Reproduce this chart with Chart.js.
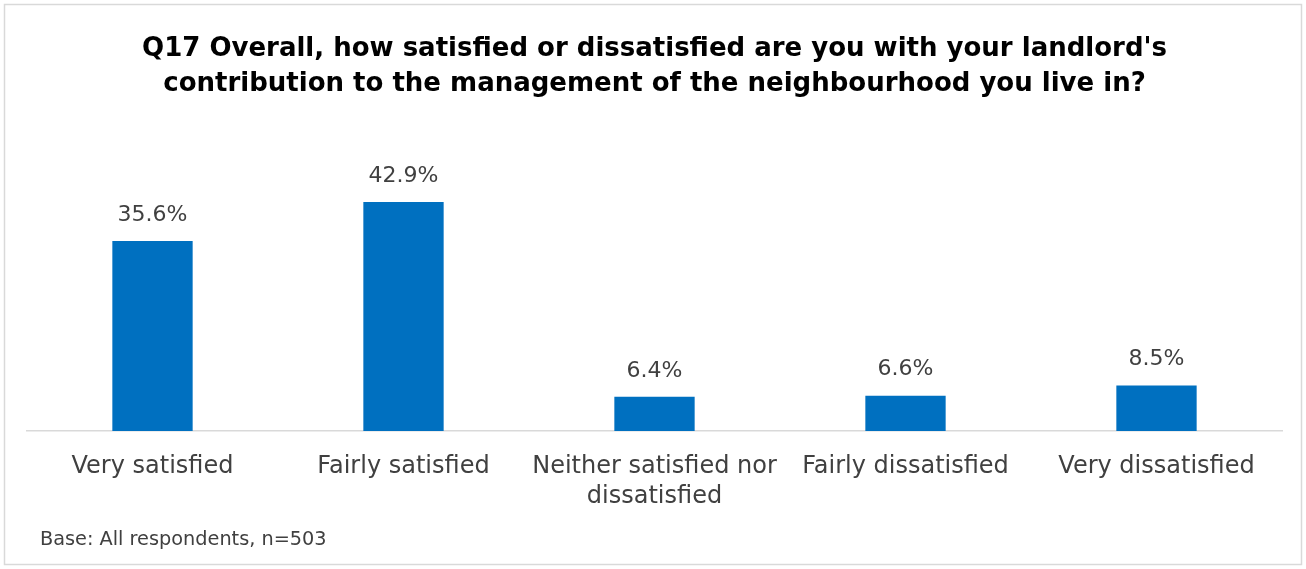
<!DOCTYPE html>
<html>
<head>
<meta charset="utf-8">
<script src="https://cdn.jsdelivr.net/npm/chart.js@4/dist/chart.umd.min.js"></script>
<style>
  html, body { margin: 0; padding: 0; background: #ffffff; }
  #wrap { width: 1306px; height: 569px; position: relative; }
</style>
</head>
<body>
<div id="wrap"><canvas id="chart" width="1306" height="569"></canvas></div>
<script>
// Survey responses, percentage of all respondents
const categories = [
  'Very satisfied',
  'Fairly satisfied',
  ['Neither satisfied nor', 'dissatisfied'],
  'Fairly dissatisfied',
  'Very dissatisfied'
];
const shares = [35.6, 42.9, 6.4, 6.6, 8.5];
const titleLines = [
  "Q17 Overall, how satisfied or dissatisfied are you with your landlord's",
  "contribution to the management of the neighbourhood you live in?"
];
const footnote = 'Base: All respondents, n=503';

const FONT = "'DejaVu Sans', sans-serif";
const TEXT = '#404040';

// Frame around the whole graphic plus the base note
const framePlugin = {
  id: 'frame',
  afterDraw(chart) {
    const ctx = chart.ctx;
    ctx.save();
    ctx.strokeStyle = '#d9d9d9';
    ctx.lineWidth = 1.5;
    ctx.strokeRect(4.5, 4.5, 1297, 560);
    ctx.fillStyle = TEXT;
    ctx.font = '19.3px ' + FONT;
    ctx.textBaseline = 'middle';
    ctx.textAlign = 'left';
    ctx.fillText(footnote, 40, 540);
    ctx.restore();
  }
};

// Percentage labels above each bar
const valueLabels = {
  id: 'valueLabels',
  afterDatasetsDraw(chart) {
    const ctx = chart.ctx;
    const meta = chart.getDatasetMeta(0);
    ctx.save();
    ctx.fillStyle = TEXT;
    ctx.font = '22px ' + FONT;
    ctx.textAlign = 'center';
    ctx.textBaseline = 'middle';
    meta.data.forEach((bar, i) => {
      ctx.fillText(shares[i].toFixed(1) + '%', bar.x, bar.y - 26);
    });
    ctx.restore();
  }
};

new Chart(document.getElementById('chart'), {
  type: 'bar',
  data: {
    labels: categories,
    datasets: [{
      data: shares,
      backgroundColor: '#0070C0',
      barPercentage: 0.32,
      categoryPercentage: 1.0
    }]
  },
  options: {
    responsive: false,
    animation: false,
    layout: { padding: { left: 27, right: 24, top: 0, bottom: 0 } },
    plugins: {
      legend: { display: false },
      tooltip: { enabled: false },
      title: {
        display: true,
        text: titleLines,
        color: '#000000',
        font: { family: FONT, size: 26, weight: 'bold', lineHeight: 1.35 },
        padding: { top: 31.5, bottom: 62.3 }
      }
    },
    scales: {
      x: {
        grid: { display: false },
        border: { display: true, color: '#d9d9d9', width: 1.5 },
        ticks: {
          color: TEXT,
          font: { family: FONT, size: 24, lineHeight: 1.25 },
          padding: 13,
          maxRotation: 0,
          autoSkip: false
        },
        afterFit(scale) { scale.height = 138; }
      },
      y: {
        display: false,
        min: 0,
        max: 50
      }
    }
  },
  plugins: [framePlugin, valueLabels]
});
</script>
</body>
</html>
